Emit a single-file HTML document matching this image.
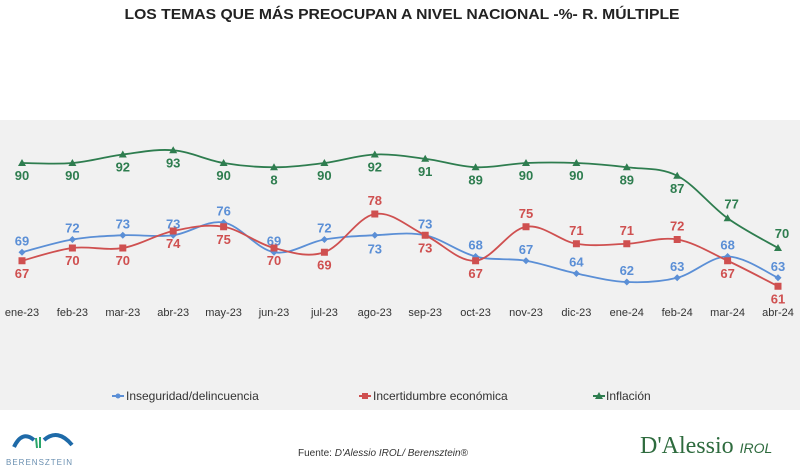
<!DOCTYPE html>
<html><head><meta charset="utf-8"><style>
body{margin:0;width:800px;height:467px;overflow:hidden;background:#fff;font-family:"Liberation Sans",sans-serif}
</style></head><body>
<svg width="800" height="467" xmlns="http://www.w3.org/2000/svg">
<rect x="0" y="120" width="800" height="290" fill="#f1f1f1"/>
<text x="402" y="19" text-anchor="middle" font-weight="bold" font-size="15" textLength="555" lengthAdjust="spacingAndGlyphs" fill="#222">LOS TEMAS QUE MÁS PREOCUPAN A NIVEL NACIONAL -%- R. MÚLTIPLE</text>
<g id="g"></g>
<g font-size="12" fill="#333">
<g><line x1="112" y1="396" x2="124" y2="396" stroke="#5b8fd6" stroke-width="2"/><circle cx="118" cy="396" r="2.5" fill="#5b8fd6"/><text x="126" y="400">Inseguridad/delincuencia</text></g>
<g><line x1="359" y1="396" x2="371" y2="396" stroke="#cf5050" stroke-width="2"/><rect x="362" y="393" width="6" height="6" fill="#cf5050"/><text x="373" y="400">Incertidumbre económica</text></g>
<g><line x1="593" y1="396" x2="605" y2="396" stroke="#2e7d4f" stroke-width="2"/><path d="M599 392 L603 399 L595 399Z" fill="#2e7d4f"/><text x="606" y="400">Inflación</text></g>
</g>
<g>
<path d="M14 447 Q22 430 34 440" stroke="#1e6aa8" stroke-width="4" fill="none"/>
<path d="M44 440 Q58 428 72 445" stroke="#1e6aa8" stroke-width="4" fill="none"/>
<path d="M36 438 L37 448 M40 437 L40 448" stroke="#2aa56a" stroke-width="2"/>
<text x="6" y="465" font-size="8" fill="#6a8fb0" letter-spacing="1">BERENSZTEIN</text>
</g>
<text x="298" y="456" font-size="10" fill="#333">Fuente: <tspan font-style="italic">D'Alessio IROL/ Berensztein®</tspan></text>
<text x="640" y="453" font-size="24" fill="#2e6b3e" font-family="Liberation Serif,serif">D'Alessio <tspan font-size="14" font-style="italic" font-family="Liberation Sans,sans-serif">IROL</tspan></text>
</svg>
<script>
const categories=["ene-23","feb-23","mar-23","abr-23","may-23","jun-23","jul-23","ago-23","sep-23","oct-23","nov-23","dic-23","ene-24","feb-24","mar-24","abr-24"];
const inseguridad=[69,72,73,73,76,69,72,73,73,68,67,64,62,63,68,63];
const incertidumbre=[67,70,70,74,75,70,69,78,73,67,75,71,71,72,67,61];
const inflacion=[90,90,92,93,90,89,90,92,91,89,90,90,89,87,77,70];
const inflacionLabels=["90","90","92","93","90","8","90","92","91","89","90","90","89","87","77","70"];
const x=i=>22+i*50.4;
const y=v=>163-(v-90)*4.25;
const NS="http://www.w3.org/2000/svg";
const g=document.getElementById('g');
function el(t,a){const e=document.createElementNS(NS,t);for(const k in a)e.setAttribute(k,a[k]);g.appendChild(e);return e;}
function smooth(vals){const p=vals.map((v,i)=>[x(i),y(v)]);let d=`M${p[0][0]},${p[0][1]}`;
for(let i=0;i<p.length-1;i++){const p0=p[i-1]||p[i],p1=p[i],p2=p[i+1],p3=p[i+2]||p2;const t=0.17;
d+=` C${p1[0]+(p2[0]-p0[0])*t},${p1[1]+(p2[1]-p0[1])*t} ${p2[0]-(p3[0]-p1[0])*t},${p2[1]-(p3[1]-p1[1])*t} ${p2[0]},${p2[1]}`;}return d;}
categories.forEach((c,i)=>{const t=el('text',{x:x(i),y:316,'text-anchor':'middle','font-size':11,fill:'#333'});t.textContent=c;

});
const series=[[inseguridad,'#5b8fd6','line-inseguridad','c'],[incertidumbre,'#cf5050','line-incertidumbre','s'],[inflacion,'#2e7d4f','line-inflacion','t']];
series.forEach(([vals,col,name,mk])=>{const p=el('path',{d:smooth(vals),stroke:col,'stroke-width':1.8,fill:'none'});


vals.forEach((v,i)=>{const cx=x(i),cy=y(v);let m;
if(mk=='c')m=el('path',{d:`M${cx} ${cy-3.5}L${cx+3.5} ${cy}L${cx} ${cy+3.5}L${cx-3.5} ${cy}Z`,fill:col});
else if(mk=='s')m=el('rect',{x:cx-3.5,y:cy-3.5,width:7,height:7,fill:col});
else m=el('path',{d:`M${cx} ${cy-4}L${cx+4} ${cy+3}L${cx-4} ${cy+3}Z`,fill:col});


let ly,lx=cx,lab=String(v);
if(mk=='c'){ly=(i==7)?cy+18:cy-7;}
else if(mk=='s'){ly=(i==7||i==10||i==11||i==12||i==13)?cy-9:cy+17;}
else{lab=inflacionLabels[i];ly=(i>=14)?cy-10:cy+17;if(i>=14)lx=cx+4;}
const t=el('text',{x:lx,y:ly,'text-anchor':'middle','font-size':13,'font-weight':'bold',fill:col});t.textContent=lab;

});});
</script>
</body></html>
